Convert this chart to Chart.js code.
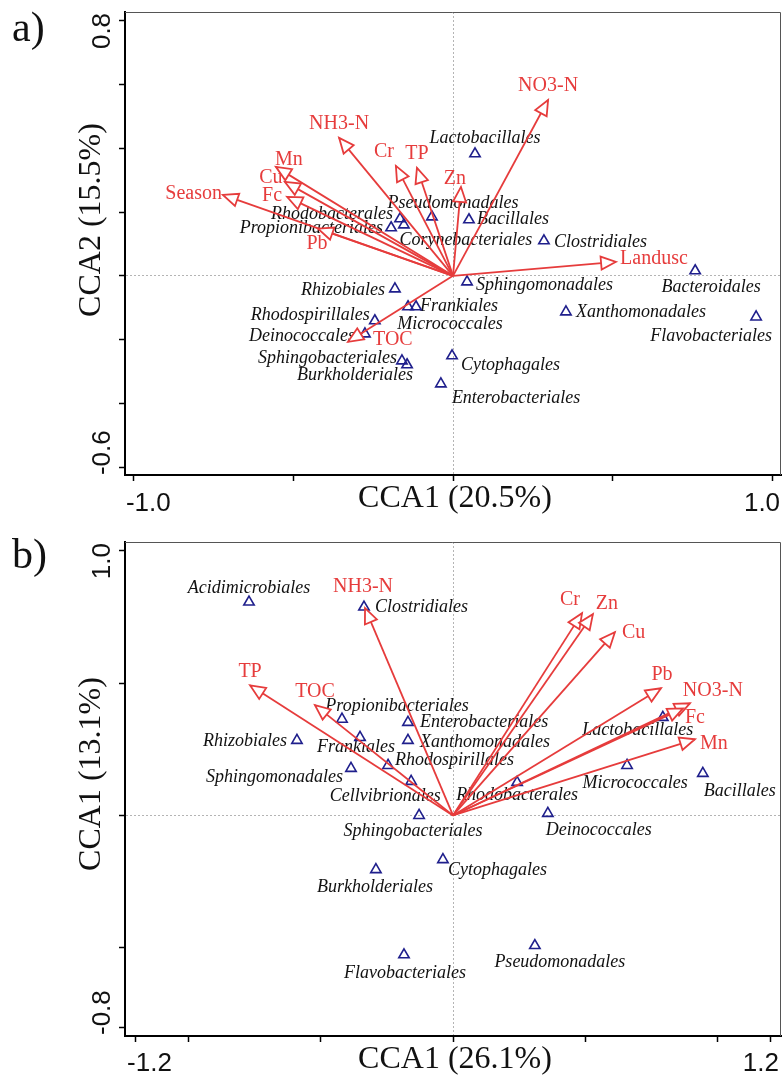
<!DOCTYPE html>
<html>
<head>
<meta charset="utf-8">
<script src="https://cdn.jsdelivr.net/npm/chart.js@4/dist/chart.umd.min.js"></script>
<style>
  html, body { margin: 0; padding: 0; background: #fff; }
  #wrap { position: relative; width: 782px; height: 1080px; }
  #wrap canvas { position: absolute; left: 0; }
  #cca-a { top: 0; }
  #cca-b { top: 520px; }
</style>
</head>
<body>
<div id="wrap">
  <canvas id="cca-a" width="782" height="520"></canvas>
  <canvas id="cca-b" width="782" height="560"></canvas>
</div>
<script>
// ---- panel a: CCA1 x CCA2 ----
const envA  = ['NO3-N', 'Landusc', 'Zn', 'TP', 'Cr', 'NH3-N', 'Mn', 'Cu', 'Fc', 'Season', 'Pb', 'TOC'];
const envAX = [0.298, 0.511, 0.025, -0.113, -0.179, -0.357, -0.555, -0.527, -0.520, -0.721, -0.423, -0.329];
const envAY = [0.552, 0.044, 0.279, 0.339, 0.345, 0.433, 0.342, 0.295, 0.248, 0.254, 0.148, -0.207];

const taxaA  = ['Lactobacillales', 'Pseudomonadales', 'Bacillales', 'Clostridiales', 'Corynebacteriales',
                'Rhodobacterales', 'Propionibacteriales', 'Sphingomonadales', 'Bacteroidales', 'Xanthomonadales',
                'Flavobacteriales', 'Rhizobiales', 'Frankiales', 'Micrococcales', 'Rhodospirillales',
                'Deinococcales', 'Sphingobacteriales', 'Burkholderiales', 'Cytophagales', 'Enterobacteriales'];
const taxaAX = [0.069, -0.066, 0.050, 0.285, -0.154, -0.166, -0.194, 0.044, 0.759, 0.354,
                0.950, -0.182, -0.116, -0.141, -0.245, -0.276, -0.160, -0.144, -0.003, -0.038];
const taxaAY = [0.383, 0.185, 0.176, 0.110, 0.160, 0.179, 0.151, -0.019, 0.016, -0.113,
                -0.129, -0.041, -0.097, -0.097, -0.141, -0.182, -0.267, -0.279, -0.251, -0.339];

const ticksAX = [-1.0, -0.5, 0, 0.5, 1.0];
const ticksAY = [-0.6, -0.4, -0.2, 0, 0.2, 0.4, 0.6, 0.8];

// ---- panel b ----
const envB  = ['NH3-N', 'TP', 'TOC', 'Cr', 'Zn', 'Cu', 'Pb', 'NO3-N', 'Fc', 'Mn'];
const envBX = [-0.332, -0.766, -0.521, 0.487, 0.528, 0.611, 0.785, 0.894, 0.868, 0.913];
const envBY = [0.784, 0.492, 0.417, 0.765, 0.761, 0.693, 0.481, 0.424, 0.405, 0.288];

const taxaB  = ['Acidimicrobiales', 'Clostridiales', 'Propionibacteriales', 'Enterobacteriales', 'Xanthomonadales',
                'Frankiales', 'Rhizobiales', 'Rhodospirillales', 'Sphingomonadales', 'Cellvibrionales',
                'Rhodobacterales', 'Micrococcales', 'Bacillales', 'Lactobacillales', 'Sphingobacteriales',
                'Deinococcales', 'Cytophagales', 'Burkholderiales', 'Flavobacteriales', 'Pseudomonadales'];
const taxaBX = [-0.770, -0.336, -0.419, -0.170, -0.170, -0.351, -0.589, -0.245, -0.385, -0.158,
                0.242, 0.657, 0.943, 0.792, -0.128, 0.358, -0.038, -0.291, -0.185, 0.309];
const taxaBY = [0.807, 0.788, 0.364, 0.352, 0.284, 0.295, 0.284, 0.189, 0.178, 0.129,
                0.125, 0.189, 0.159, 0.371, 0.000, 0.008, -0.167, -0.205, -0.527, -0.492];

const ticksBX = [-1.2, -1.0, -0.5, 0, 0.5, 1.0, 1.2];
const ticksBY = [-0.8, -0.5, 0, 0.5, 1.0];

// label placement in px from the mark: [dx, dy, align]
const envPosA  = [[0,-14,'c'],[4,-3,'l'],[-6,-8,'c'],[0,-14,'c'],[-12,-14,'c'],[0,-14,'c'],
                  [13,-7,'c'],[-14,-4,'c'],[-15,-1,'c'],[-1,-1,'r'],[-1,15,'c'],[25,-2,'l']];
const taxaPosA = [[10,-16,'c'],[21,-14,'c'],[8,0,'l'],[10,1,'l'],[62,15,'c'],[-7,-5,'r'],[-8,1,'r'],
                  [9,3,'l'],[16,17,'c'],[10,0,'l'],[-45,19,'c'],[-10,1,'r'],[4,0,'l'],[42,18,'c'],
                  [-5,-6,'r'],[-10,2,'r'],[-5,-3,'r'],[6,11,'r'],[9,9,'l'],[11,14,'l']];
const envPosB  = [[-2,-21,'c'],[0,-14,'c'],[0,-13,'c'],[-12,-13,'c'],[14,-10,'c'],[7,1,'l'],
                  [1,-13,'c'],[23,-13,'c'],[12,9,'c'],[5,4,'l']];
const taxaPosB = [[0,-14,'c'],[11,0,'l'],[55,-13,'c'],[12,0,'l'],[12,2,'l'],[-4,10,'c'],[-10,1,'r'],
                  [7,-5,'l'],[-8,9,'r'],[-26,15,'c'],[0,13,'c'],[8,18,'c'],[37,18,'c'],[-25,13,'c'],
                  [-6,16,'c'],[51,17,'c'],[5,11,'l'],[-1,18,'c'],[1,18,'c'],[25,17,'c']];

const SERIF = "'Liberation Serif', 'Times New Roman', serif";
const SANS = "'Liberation Sans', Arial, sans-serif";
const RED = '#e63c3c';
const NAVY = '#1f1f8c';
const ALIGN = { l: 'left', r: 'right', c: 'center' };

function fmtTick(v) {
  return v.toFixed(1);
}

// text, arrowheads and the outer frame
function biplotDecor(p) {
  return {
    id: 'biplotDecor',
    beforeDatasetsDraw(chart) {
      const ctx = chart.ctx;
      const meta = chart.getDatasetMeta(p.env.length);
      ctx.save();
      ctx.font = 'italic 18px ' + SERIF;
      ctx.fillStyle = '#111';
      ctx.textBaseline = 'middle';
      meta.data.forEach((pt, i) => {
        const [dx, dy, al] = p.taxaPos[i];
        ctx.textAlign = ALIGN[al];
        ctx.fillText(p.taxa[i], pt.x + dx, pt.y + dy);
      });
      ctx.restore();
    },
    afterDatasetsDraw(chart) {
      const ctx = chart.ctx;
      ctx.save();
      ctx.strokeStyle = RED;
      ctx.lineWidth = 1.8;
      ctx.lineJoin = 'miter';
      p.env.forEach((name, i) => {
        const d = chart.getDatasetMeta(i).data;
        const a = d[0], b = d[1];
        const ang = Math.atan2(b.y - a.y, b.x - a.x);
        const len = 15, half = 6.5;
        const bx = b.x - len * Math.cos(ang), by = b.y - len * Math.sin(ang);
        const nx = -Math.sin(ang) * half, ny = Math.cos(ang) * half;
        ctx.beginPath();
        ctx.moveTo(b.x, b.y);
        ctx.lineTo(bx + nx, by + ny);
        ctx.lineTo(bx - nx, by - ny);
        ctx.closePath();
        ctx.fillStyle = '#fff';
        ctx.fill();
        ctx.stroke();
      });
      ctx.font = '20px ' + SERIF;
      ctx.fillStyle = RED;
      ctx.textBaseline = 'middle';
      p.env.forEach((name, i) => {
        const b = chart.getDatasetMeta(i).data[1];
        const [dx, dy, al] = p.envPos[i];
        ctx.textAlign = ALIGN[al];
        ctx.fillText(name, b.x + dx, b.y + dy);
      });
      ctx.restore();
    },
    afterDraw(chart) {
      const ctx = chart.ctx;
      const ca = chart.chartArea;
      const xs = chart.scales.x, ys = chart.scales.y;
      ctx.save();
      // thin frame on top and right
      ctx.strokeStyle = '#555';
      ctx.lineWidth = 1;
      ctx.beginPath();
      ctx.moveTo(ca.left, ca.top + 0.5);
      ctx.lineTo(ca.right - 0.5, ca.top + 0.5);
      ctx.lineTo(ca.right - 0.5, ca.bottom);
      ctx.stroke();

      // end tick labels only
      ctx.fillStyle = '#111';
      ctx.font = '26px ' + SANS;
      ctx.textBaseline = 'alphabetic';
      const tx = p.ticksX, ty = p.ticksY;
      ctx.textAlign = 'left';
      ctx.fillText(fmtTick(tx[0]), xs.getPixelForValue(tx[0]) - 8, p.xTickBase);
      ctx.textAlign = 'right';
      ctx.fillText(fmtTick(tx[tx.length - 1]), xs.getPixelForValue(tx[tx.length - 1]) + 8, p.xTickBase);

      ctx.save();
      ctx.translate(110, ys.getPixelForValue(ty[0]) + 8);
      ctx.rotate(-Math.PI / 2);
      ctx.textAlign = 'left';
      ctx.fillText(fmtTick(ty[0]), 0, 0);
      ctx.restore();
      ctx.save();
      ctx.translate(110, ys.getPixelForValue(ty[ty.length - 1]) - 8);
      ctx.rotate(-Math.PI / 2);
      ctx.textAlign = 'right';
      ctx.fillText(fmtTick(ty[ty.length - 1]), 0, 0);
      ctx.restore();

      // axis titles
      ctx.font = '32px ' + SERIF;
      ctx.textAlign = 'center';
      ctx.fillText(p.xTitle, (ca.left + ca.right) / 2 + 2, p.xTitleBase);
      ctx.save();
      ctx.translate(100, p.yTitleMid);
      ctx.rotate(-Math.PI / 2);
      ctx.fillText(p.yTitle, 0, 0);
      ctx.restore();

      // panel letter
      ctx.font = '42px ' + SERIF;
      ctx.textAlign = 'left';
      ctx.fillText(p.letter, 12, p.letterBase);
      ctx.restore();
    }
  };
}

function axisOpts(min, max, ticks, fit) {
  return {
    type: 'linear',
    min: min,
    max: max,
    afterBuildTicks: s => { s.ticks = ticks.map(v => ({ value: v })); },
    afterFit: fit,
    ticks: { display: false },
    grid: {
      drawOnChartArea: true,
      drawTicks: true,
      tickLength: 6,
      tickWidth: 1.5,
      tickColor: '#000',
      lineWidth: 1,
      color: c => (c.tick && c.tick.value === 0 ? '#b4b4b4' : 'rgba(0,0,0,0)')
    },
    border: { display: true, color: '#000', width: 2, dash: [2, 2] }
  };
}

function biplot(id, p) {
  const datasets = p.env.map((name, i) => ({
    label: name,
    data: [{ x: 0, y: 0 }, { x: p.envX[i], y: p.envY[i] }],
    showLine: true,
    borderColor: RED,
    borderWidth: 1.8,
    pointRadius: 0
  }));
  datasets.push({
    label: 'orders',
    data: p.taxa.map((t, i) => ({ x: p.taxaX[i], y: p.taxaY[i] })),
    showLine: false,
    pointStyle: 'triangle',
    pointRadius: 6,
    borderWidth: 1.6,
    borderColor: NAVY,
    backgroundColor: 'rgba(0,0,0,0)'
  });

  return new Chart(document.getElementById(id), {
    type: 'scatter',
    data: { datasets: datasets },
    options: {
      responsive: false,
      animation: false,
      devicePixelRatio: 1,
      layout: { autoPadding: false, padding: { left: 0, right: 1, top: p.padTop, bottom: 0 } },
      plugins: { legend: { display: false }, tooltip: { enabled: false } },
      scales: {
        x: axisOpts(p.xMin, p.xMax, p.ticksX, s => { s.height = p.xAxisH; }),
        y: axisOpts(p.yMin, p.yMax, p.ticksY, s => { s.width = 125; })
      }
    },
    plugins: [biplotDecor(p)]
  });
}

biplot('cca-a', {
  env: envA, envX: envAX, envY: envAY, envPos: envPosA,
  taxa: taxaA, taxaX: taxaAX, taxaY: taxaAY, taxaPos: taxaPosA,
  ticksX: ticksAX, ticksY: ticksAY,
  xMin: -1.028, xMax: 1.028, yMin: -0.625, yMax: 0.828,
  padTop: 12, xAxisH: 45,
  xTitle: 'CCA1 (20.5%)', yTitle: 'CCA2 (15.5%)',
  xTickBase: 511, xTitleBase: 507, yTitleMid: 220,
  letter: 'a)', letterBase: 41
});

biplot('cca-b', {
  env: envB, envX: envBX, envY: envBY, envPos: envPosB,
  taxa: taxaB, taxaX: taxaBX, taxaY: taxaBY, taxaPos: taxaPosB,
  ticksX: ticksBX, ticksY: ticksBY,
  xMin: -1.238, xMax: 1.238, yMin: -0.834, yMax: 1.034,
  padTop: 22, xAxisH: 44,
  xTitle: 'CCA1 (26.1%)', yTitle: 'CCA1 (13.1%)',
  xTickBase: 551, xTitleBase: 548, yTitleMid: 254,
  letter: 'b)', letterBase: 48
});
</script>
</body>
</html>
